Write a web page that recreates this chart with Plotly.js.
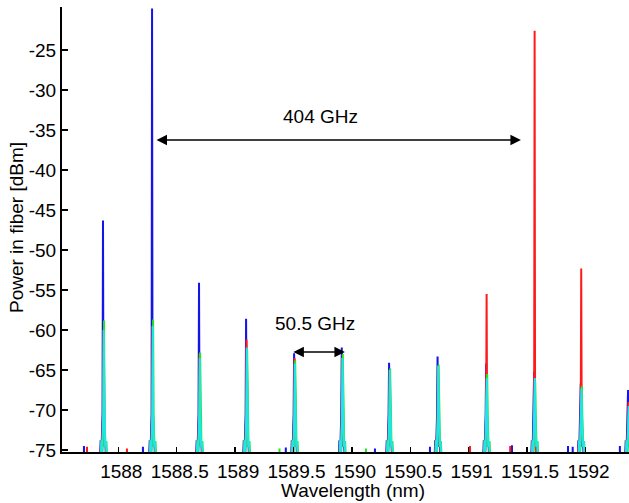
<!DOCTYPE html>
<html>
<head>
<meta charset="utf-8">
<script src="https://cdn.plot.ly/plotly-3.0.1.min.js"></script>
<style>html,body{margin:0;padding:0;background:#fff;}#chart{width:629px;height:503px;}</style>
</head>
<body>
<div id="chart"></div>
<script>
// Peak centre wavelengths (nm) of the comb lines
const peakCenters = [1587.869, 1588.289, 1588.691, 1589.094, 1589.505, 1589.913, 1590.318, 1590.733, 1591.149, 1591.560, 1591.959, 1592.364];
// Peak powers (dBm) per measured trace
const bluePeaks  = [-46.3, -19.8, -54.1, -58.6, -62.9, -62.2, -64.1, -63.3, -64.2, -65.2, -66.7, -67.5];
const redPeaks   = [-60.0, -59.5, -63.0, -61.2, -63.5, -63.5, -65.0, -64.5, -55.5, -22.6, -52.3, -69.0];
const greenPeaks = [-58.8, -58.7, -62.8, -62.5, -63.8, -63.0, -64.8, -64.3, -65.5, -66.5, -67.0, -70.0];
const cyanPeaks  = [-60.0, -59.5, -63.5, -62.2, -64.2, -63.5, -65.0, -64.5, -66.0, -66.0, -67.3, -69.5];
// small noise-floor spikes
const blueFloorX = [1587.706, 1588.211, 1589.434, 1590.197, 1590.668, 1591.370, 1591.850, 1591.890, 1592.294];
const blueFloorY = [-74.5, -74.6, -74.7, -74.8, -74.6, -74.4, -74.5, -74.6, -74.5];
const redFloorX  = [1587.732, 1588.074, 1591.011, 1591.355, 1591.586, 1591.937];
const redFloorY  = [-74.6, -74.8, -74.5, -74.5, -74.7, -74.6];
const greenFloorX = [1589.380, 1590.120];
const greenFloorY = [-74.8, -74.8];
// axis ticks
const xTickVals = [1588, 1588.5, 1589, 1589.5, 1590, 1590.5, 1591, 1591.5, 1592];
const xTickText = ["1588", "1588.5", "1589", "1589.5", "1590", "1590.5", "1591", "1591.5", "1592"];
const yTickVals = [-25, -30, -35, -40, -45, -50, -55, -60, -65, -70, -75];
const yTickText = ["-25", "-30", "-35", "-40", "-45", "-50", "-55", "-60", "-65", "-70", "-75"];

// peak line shape template (style only)
const FLOOR = -80;
function spectrum(peaks, shift, floorX, floorY) {
  const pts = [];
  peaks.forEach((top, i) => {
    const c = peakCenters[i] + shift;
    pts.push([c - 0.035, FLOOR], [c - 0.020, -73.8], [c - 0.013, -75.2], [c - 0.004, -70.5],
             [c, top], [c + 0.004, -70.5], [c + 0.012, -74.6], [c + 0.020, -73.9], [c + 0.035, FLOOR]);
  });
  floorX.forEach((x, i) => {
    pts.push([x - 0.003, FLOOR], [x, floorY[i]], [x + 0.003, FLOOR]);
  });
  pts.sort((a, b) => a[0] - b[0]);
  return {x: pts.map(p => p[0]), y: pts.map(p => p[1])};
}

const series = [
  {peaks: bluePeaks, shift: 0.000, fx: blueFloorX, fy: blueFloorY, color: '#1414e6'},
  {peaks: redPeaks, shift: 0.004, fx: redFloorX, fy: redFloorY, color: '#ff1a1a'},
  {peaks: greenPeaks, shift: 0.009, fx: greenFloorX, fy: greenFloorY, color: '#22e622'},
  {peaks: cyanPeaks, shift: 0.006, fx: [], fy: [], color: '#1ee6e6'}
];
const data = series.map(s => {
  const sp = spectrum(s.peaks, s.shift, s.fx, s.fy);
  return {x: sp.x, y: sp.y, type: 'scatter', mode: 'lines', line: {color: s.color, width: 2}, hoverinfo: 'skip'};
});

const font = {family: 'Liberation Sans, Arial, sans-serif', size: 19, color: '#000'};
const layout = {
  width: 629, height: 503,
  margin: {l: 62, r: 0, t: 7, b: 51},
  paper_bgcolor: '#fff', plot_bgcolor: '#fff',
  showlegend: false,
  font: font,
  xaxis: {
    range: [1587.518, 1592.372], showgrid: false, zeroline: false,
    showline: true, linecolor: '#000', linewidth: 2,
    ticks: 'inside', ticklen: 5, tickwidth: 1.5, tickcolor: '#000',
    tickvals: xTickVals, ticktext: xTickText, tickfont: font,
    ticklabelshift: 3, ticklabelstandoff: 1,
    automargin: false
  },
  yaxis: {
    range: [-75.25, -19.625], showgrid: false, zeroline: false,
    showline: true, linecolor: '#000', linewidth: 2,
    ticks: 'inside', ticklen: 6, tickwidth: 1.5, tickcolor: '#000',
    tickvals: yTickVals, ticktext: yTickText, tickfont: font,
    automargin: false
  },
  annotations: [
    {x: 1591.447, y: -36.25, ax: 1588.314, ay: -36.25, xref: 'x', yref: 'y', axref: 'x', ayref: 'y',
     text: '', showarrow: true, arrowhead: 2, startarrowhead: 2, arrowside: 'end+start', arrowsize: 1.4, startarrowsize: 1.4, arrowwidth: 1.5, arrowcolor: '#000'},
    {x: 1589.94, y: -62.75, ax: 1589.486, ay: -62.75, xref: 'x', yref: 'y', axref: 'x', ayref: 'y',
     text: '', showarrow: true, arrowhead: 2, startarrowhead: 2, arrowside: 'end+start', arrowsize: 1.4, startarrowsize: 1.4, arrowwidth: 1.5, arrowcolor: '#000'},
    {x: 1589.733, y: -33.3, xref: 'x', yref: 'y', text: '404 GHz', showarrow: false, font: font},
    {x: 1589.684, y: -59.125, xref: 'x', yref: 'y', text: '50.5 GHz', showarrow: false, font: font},
    {x: 0.514, y: -0.0854, xref: 'paper', yref: 'paper', xanchor: 'center', yanchor: 'middle',
     text: 'Wavelength (nm)', showarrow: false, font: font},
    {x: -0.0802, y: 0.5045, xref: 'paper', yref: 'paper', xanchor: 'center', yanchor: 'middle', textangle: -90,
     text: 'Power in fiber [dBm]', showarrow: false, font: font}
  ]
};
Plotly.newPlot('chart', data, layout, {displayModeBar: false, staticPlot: true});
</script>
</body>
</html>
